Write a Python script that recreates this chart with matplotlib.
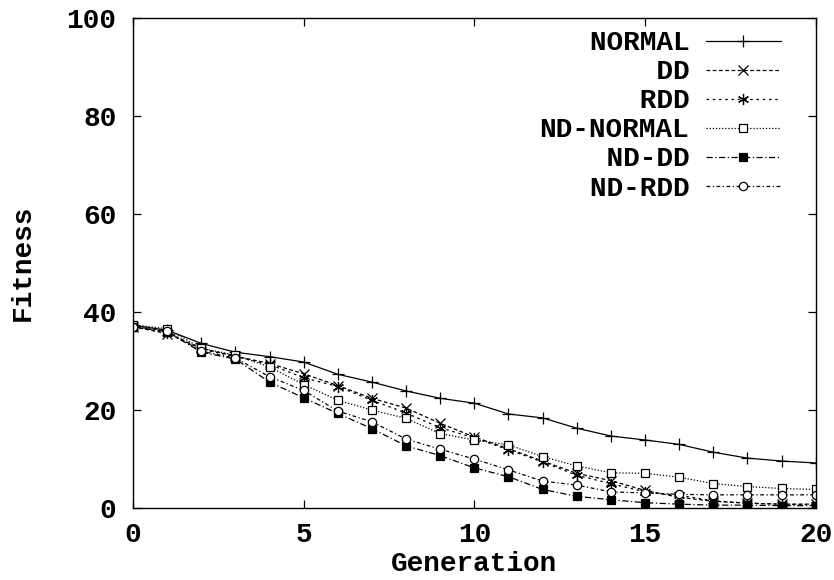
import matplotlib
matplotlib.use('Agg')
import matplotlib.pyplot as plt
import numpy as np

# values
generations = list(range(21))
normal = [37.3, 36.3, 33.6, 31.8, 30.9, 29.8, 27.3, 25.7, 23.9, 22.4, 21.4,
          19.2, 18.4, 16.3, 14.7, 13.9, 13.0, 11.4, 10.2, 9.6, 9.2]
dd = [37.0, 35.6, 32.6, 31.0, 29.5, 27.4, 25.0, 22.4, 20.4, 17.3, 14.5,
      12.1, 9.6, 7.1, 5.6, 3.6, 2.2, 1.4, 1.0, 0.8, 0.8]
rdd = [37.0, 35.8, 32.4, 30.9, 29.3, 26.6, 24.8, 22.0, 19.4, 16.4, 14.3,
       11.9, 9.4, 6.7, 5.0, 3.3, 2.6, 1.5, 1.0, 0.8, 0.7]
nd_normal = [37.4, 36.6, 32.6, 31.2, 28.8, 25.2, 22.0, 20.0, 18.3, 15.2, 13.9,
             12.9, 10.5, 8.6, 7.2, 7.1, 6.3, 5.0, 4.4, 4.0, 3.8]
nd_dd = [37.0, 36.0, 31.8, 30.4, 25.7, 22.5, 19.3, 16.2, 12.7, 10.7, 8.2,
         6.4, 3.8, 2.4, 1.7, 1.1, 0.8, 0.6, 0.6, 0.5, 0.5]
nd_rdd = [37.0, 36.2, 32.0, 30.6, 26.8, 24.0, 19.8, 17.6, 14.1, 12.0, 10.0,
          7.8, 5.5, 4.7, 3.3, 3.1, 2.8, 2.7, 2.7, 2.7, 2.7]
labels = ['NORMAL', 'DD', 'RDD', 'ND-NORMAL', 'ND-DD', 'ND-RDD']
x_ticks = [0, 5, 10, 15, 20]
y_ticks = [0, 20, 40, 60, 80, 100]

plt.rcParams['font.family'] = ['Liberation Mono', 'DejaVu Sans Mono']
plt.rcParams['font.weight'] = 'bold'

fig = plt.figure(figsize=(8.34, 5.8), dpi=100)
ax = fig.add_axes([0.1595, 0.124, 0.8185, 0.845])

# gnuplot-like styles: (linestyle, marker, face colour, size)
styles = [
    ('-', '+', 'black', 9),
    ((0, (3, 2)), 'x', 'black', 7),
    ((0, (2, 3)), (6, 2, 0), 'black', 8),
    ((0, (1, 1.5)), 's', 'white', 6),
    ((0, (5, 2, 1, 2)), 's', 'black', 6),
    ((0, (3, 2, 1, 2)), 'o', 'white', 6),
]
series = [normal, dd, rdd, nd_normal, nd_dd, nd_rdd]

width = max(len(l) for l in labels)
for vals, lab, (ls, mk, fc, ms) in zip(series, labels, styles):
    # pad with spaces so the monospace labels line up on the right, like gnuplot
    ax.plot(generations, vals, linestyle=ls, marker=mk, color='black',
            markerfacecolor=fc, markeredgecolor='black', markersize=ms,
            linewidth=0.9, markeredgewidth=0.9, label=lab.rjust(width))

ax.set_xlim(0, 20)
ax.set_ylim(0, 100)
ax.set_xticks(x_ticks)
ax.set_yticks(y_ticks)
ax.tick_params(direction='in', length=6, width=0.9, top=True, right=True,
               labelsize=20)
ax.tick_params(axis='x', pad=10)
ax.tick_params(axis='y', pad=12)
for s in ax.spines.values():
    s.set_linewidth(1.0)

ax.set_xlabel('Generation', fontsize=20, fontweight='bold', labelpad=2)
ax.set_ylabel('Fitness', fontsize=20, fontweight='bold', labelpad=22)

leg = ax.legend(loc='upper right', bbox_to_anchor=(0.949, 0.975), frameon=False,
                markerfirst=False, fontsize=20, handlelength=2.7,
                handletextpad=0.6, labelspacing=0.11, borderpad=0,
                borderaxespad=0)

fig.savefig('out.png', dpi=100)
